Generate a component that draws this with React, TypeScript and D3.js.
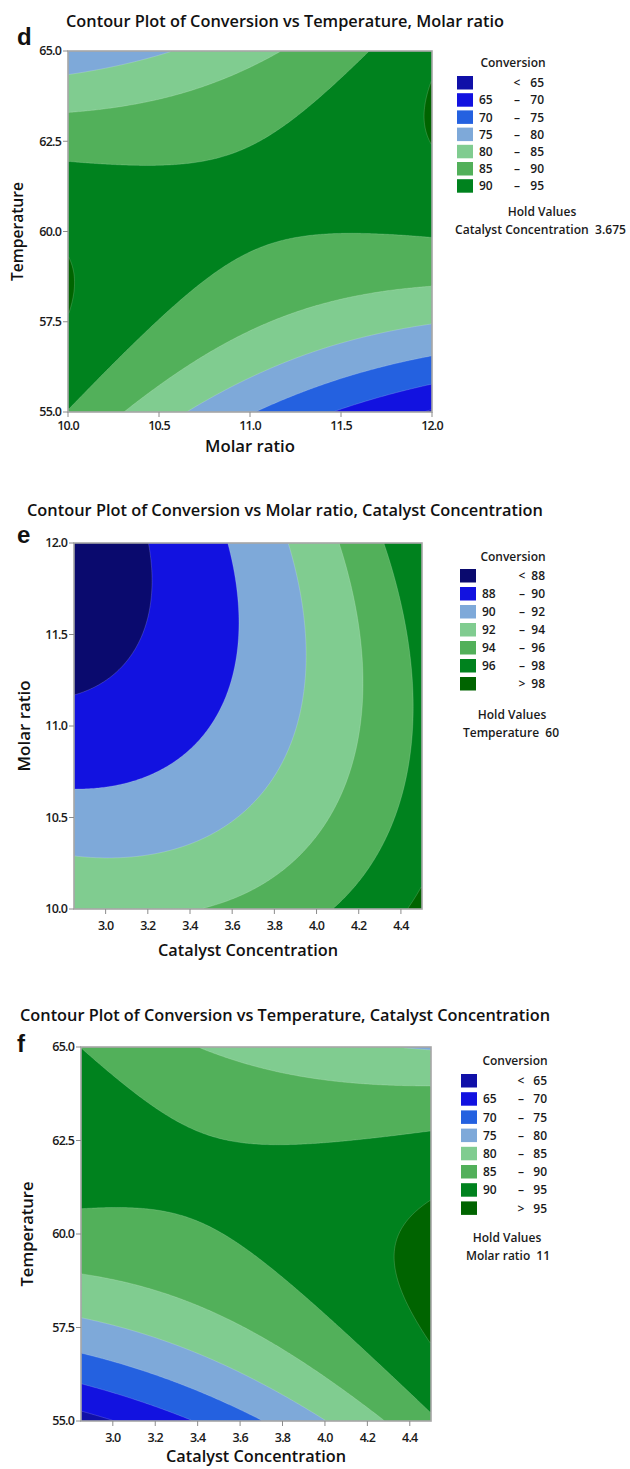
import React from "react";
import * as d3 from "d3";

// axis ranges (natural units)
const molarDomain = [10, 12];
const tempDomain = [55, 65];
const catalystDomain = [2.85, 4.5];

const tempTicks = [55, 57.5, 60, 62.5, 65];
const molarTicks = [10, 10.5, 11, 11.5, 12];
const catalystTicks = [3.0, 3.2, 3.4, 3.6, 3.8, 4.0, 4.2, 4.4];

// quadratic response, coded units: [b0, bx, by, bxx, byy, bxy]
const coefD = [90.6, -1.9, 4.03, 1.8, -11.2, 10.75];
const coefE = [90.77, 3.915, -1.935, 1.7, 1.79, 1.645];
const coefF = [90.68, 3.94, 4.31, 1.66, -11.9, -9.14];

const levelsBy5 = [65, 70, 75, 80, 85, 90, 95];
const levelsBy2 = [88, 90, 92, 94, 96, 98];

const paletteBy5 = ["#1010a8", "#1212e0", "#2461e0", "#7ea9d9", "#80cc90", "#52b05a", "#00821e", "#006400"];
const paletteBy2 = ["#0a0a6e", "#1212e0", "#7ea9d9", "#80cc90", "#52b05a", "#00821e", "#006400"];

const legendD = [["", "<", "65"], ["65", "–", "70"], ["70", "–", "75"], ["75", "–", "80"], ["80", "–", "85"], ["85", "–", "90"], ["90", "–", "95"]];
const legendE = [["", "<", "88"], ["88", "–", "90"], ["90", "–", "92"], ["92", "–", "94"], ["94", "–", "96"], ["96", "–", "98"], ["", ">", "98"]];
const legendF = [["", "<", "65"], ["65", "–", "70"], ["70", "–", "75"], ["75", "–", "80"], ["80", "–", "85"], ["85", "–", "90"], ["90", "–", "95"], ["", ">", "95"]];

const FONT = "'Open Sans', 'Noto Sans', sans-serif";
const NX = 220;
const NY = 220;

function gridValues(coef: number[], xDom: number[], yDom: number[]) {
  const [b0, bx, by, bxx, byy, bxy] = coef;
  const xc = (xDom[0] + xDom[1]) / 2, xh = (xDom[1] - xDom[0]) / 2;
  const yc = (yDom[0] + yDom[1]) / 2, yh = (yDom[1] - yDom[0]) / 2;
  const vals: number[] = new Array(NX * NY);
  for (let j = 0; j < NY; j++) {
    const y = yDom[1] - ((j + 0.5) / NY) * (yDom[1] - yDom[0]);
    const v = (y - yc) / yh;
    for (let i = 0; i < NX; i++) {
      const x = xDom[0] + ((i + 0.5) / NX) * (xDom[1] - xDom[0]);
      const u = (x - xc) / xh;
      vals[j * NX + i] = b0 + bx * u + by * v + bxx * u * u + byy * v * v + bxy * u * v;
    }
  }
  return vals;
}

function ContourPanel({ id, p }: { id: string; p: any }) {
  const x = d3.scaleLinear().domain(p.xDomain).range([p.left, p.right]);
  const y = d3.scaleLinear().domain(p.yDomain).range([p.bottom, p.top]);

  const vals = gridValues(p.coef, p.xDomain, p.yDomain);
  const polys = d3.contours().size([NX, NY]).thresholds(p.levels)(vals);
  const proj = d3.geoTransform({
    point(gx: number, gy: number) {
      const xv = p.xDomain[0] + (gx / NX) * (p.xDomain[1] - p.xDomain[0]);
      const yv = p.yDomain[1] - (gy / NY) * (p.yDomain[1] - p.yDomain[0]);
      (this as any).stream.point(x(xv), y(yv));
    },
  });
  const path = d3.geoPath(proj);
  const w = p.right - p.left;
  const h = p.bottom - p.top;
  const lg = p.legend;

  return (
    <g>
      {/* title + panel letter */}
      <text x={p.titleX} y={p.titleY} fontSize={17} fontWeight={600} fill="#111" fontFamily={FONT}
        textLength={p.titleLen} lengthAdjust="spacingAndGlyphs">{p.title}</text>
      <text x={17} y={p.letterY} fontSize={24} fontWeight={700} fill="#111" fontFamily="'Liberation Sans', Arial, sans-serif">{p.letter}</text>

      <clipPath id={"clip-" + id}>
        <rect x={p.left} y={p.top} width={w} height={h} />
      </clipPath>
      <g clipPath={`url(#clip-${id})`}>
        <rect x={p.left} y={p.top} width={w} height={h} fill={p.colors[0]} />
        {polys.map((c, k) => (
          <path key={k} d={path(c as any) || ""} fill={p.colors[k + 1]}
            stroke="#ffffff" strokeOpacity={0.28} strokeWidth={0.6} />
        ))}
      </g>
      <rect x={p.left} y={p.top} width={w} height={h} fill="none" stroke="#a6a6a6" strokeWidth={1.6} />

      {/* y axis */}
      {p.yTicks.map((t: number, i: number) => (
        <g key={"y" + i}>
          <line x1={p.left - 5} x2={p.left} y1={y(t)} y2={y(t)} stroke="#8c8c8c" />
          <text x={p.left - 7} y={y(t)} dy="0.35em" textAnchor="end" fontSize={12.5} fontWeight={600}
            letterSpacing={-0.8} fill="#1a1a1a" fontFamily={FONT}>{t.toFixed(1)}</text>
        </g>
      ))}
      {/* x axis */}
      {p.xTicks.map((t: number, i: number) => (
        <g key={"x" + i}>
          <line x1={x(t)} x2={x(t)} y1={p.bottom} y2={p.bottom + 5} stroke="#8c8c8c" />
          <text x={x(t)} y={p.bottom + p.xTickGap} textAnchor="middle" fontSize={12.5} fontWeight={600}
            letterSpacing={-0.8} fill="#1a1a1a" fontFamily={FONT}>{t.toFixed(1)}</text>
        </g>
      ))}

      <text x={(p.left + p.right) / 2} y={p.xTitleY} textAnchor="middle" fontSize={17} fontWeight={600}
        fill="#111" fontFamily={FONT} textLength={p.xTitleLen} lengthAdjust="spacingAndGlyphs">{p.xLabel}</text>
      <text transform={`translate(${p.yTitleX},${(p.top + p.bottom) / 2}) rotate(-90)`} textAnchor="middle"
        dy="0.35em" fontSize={17} fontWeight={600} fill="#111" fontFamily={FONT}
        textLength={p.yTitleLen} lengthAdjust="spacingAndGlyphs">{p.yLabel}</text>

      {/* legend */}
      <text x={lg.cx} y={lg.headY} textAnchor="middle" fontSize={12} fontWeight={600} fill="#1a1a1a" fontFamily={FONT}>Conversion</text>
      {p.rows.map((r: string[], i: number) => {
        const ry = lg.rowY + i * lg.step;
        return (
          <g key={"l" + i}>
            <rect x={lg.swX} y={ry} width={16} height={13.5} fill={p.colors[i]} />
            <text x={lg.loX} y={ry + 7} dy="0.35em" fontSize={12} fontWeight={600} fill="#1a1a1a" fontFamily={FONT}>{r[0]}</text>
            <text x={lg.dashX} y={ry + 7} dy="0.35em" textAnchor="middle" fontSize={12} fontWeight={600} fill="#1a1a1a" fontFamily={FONT}>{r[1]}</text>
            <text x={lg.hiX} y={ry + 7} dy="0.35em" textAnchor="end" fontSize={12} fontWeight={600} fill="#1a1a1a" fontFamily={FONT}>{r[2]}</text>
          </g>
        );
      })}
      <text x={lg.holdCx} y={lg.holdY} textAnchor="middle" fontSize={12} fontWeight={600} fill="#1a1a1a" fontFamily={FONT}>Hold Values</text>
      <text x={lg.holdX} y={lg.holdY + 18} fontSize={12} fontWeight={600} fill="#1a1a1a" fontFamily={FONT}
        textLength={lg.holdLen} lengthAdjust="spacingAndGlyphs" xmlSpace="preserve">{p.hold}</text>
    </g>
  );
}

const panels = [
  {
    id: "d", letter: "d", title: "Contour Plot of Conversion vs Temperature, Molar ratio",
    titleX: 66, titleY: 27, titleLen: 438, letterY: 45,
    xLabel: "Molar ratio", yLabel: "Temperature",
    xDomain: molarDomain, yDomain: tempDomain, xTicks: molarTicks, yTicks: tempTicks,
    coef: coefD, levels: levelsBy5, colors: paletteBy5, rows: legendD,
    hold: "Catalyst Concentration  3.675",
    left: 68, right: 432, top: 51, bottom: 412, xTickGap: 18,
    xTitleY: 452, xTitleLen: 90, yTitleX: 17, yTitleLen: 99,
    legend: { cx: 513, headY: 67, swX: 457, rowY: 76, step: 17.2, loX: 479, dashX: 517, hiX: 544,
      holdCx: 542, holdY: 216, holdX: 455, holdLen: 171 },
  },
  {
    id: "e", letter: "e", title: "Contour Plot of Conversion vs Molar ratio, Catalyst Concentration",
    titleX: 27, titleY: 516, titleLen: 516, letterY: 543,
    xLabel: "Catalyst Concentration", yLabel: "Molar ratio",
    xDomain: catalystDomain, yDomain: molarDomain, xTicks: catalystTicks, yTicks: molarTicks,
    coef: coefE, levels: levelsBy2, colors: paletteBy2, rows: legendE,
    hold: "Temperature  60",
    left: 74, right: 422, top: 543, bottom: 909, xTickGap: 21,
    xTitleY: 956, xTitleLen: 180, yTitleX: 24, yTitleLen: 91,
    legend: { cx: 513, headY: 561, swX: 460, rowY: 569, step: 18, loX: 482, dashX: 522, hiX: 545,
      holdCx: 512, holdY: 719, holdX: 463, holdLen: 96 },
  },
  {
    id: "f", letter: "f", title: "Contour Plot of Conversion vs Temperature, Catalyst Concentration",
    titleX: 20, titleY: 1021, titleLen: 530, letterY: 1052,
    xLabel: "Catalyst Concentration", yLabel: "Temperature",
    xDomain: catalystDomain, yDomain: tempDomain, xTicks: catalystTicks, yTicks: tempTicks,
    coef: coefF, levels: levelsBy5, colors: paletteBy5, rows: legendF,
    hold: "Molar ratio  11",
    left: 81, right: 431, top: 1047, bottom: 1421, xTickGap: 21,
    xTitleY: 1462, xTitleLen: 180, yTitleX: 27, yTitleLen: 105,
    legend: { cx: 515, headY: 1065, swX: 461, rowY: 1074, step: 18.2, loX: 483, dashX: 521, hiX: 547,
      holdCx: 507, holdY: 1242, holdX: 466, holdLen: 84 },
  },
];

export default function App() {
  return (
    <svg width={630} height={1469} style={{ position: "absolute", left: 0, top: 0, background: "#fff" }}>
      <rect width={630} height={1469} fill="#fff" />
      {panels.map((p) => (
        <ContourPanel key={p.id} id={p.id} p={p} />
      ))}
    </svg>
  );
}
